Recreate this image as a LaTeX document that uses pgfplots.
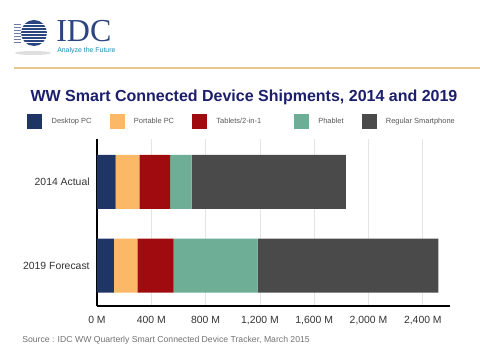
\documentclass[border=0pt]{standalone}
\usepackage{pgfplots}
\pgfplotsset{compat=1.18}
\usepackage{fontspec}
\setmainfont{Liberation Sans}
\newfontfamily\seriffont{Liberation Serif}
\definecolor{cDesk}{HTML}{1F3566}
\definecolor{cPort}{HTML}{FBB867}
\definecolor{cTab}{HTML}{A00B10}
\definecolor{cPhab}{HTML}{6EAE96}
\definecolor{cSmart}{HTML}{4A4A4A}
\definecolor{cTitle}{HTML}{1C1F6B}
\definecolor{cIDC}{HTML}{2B4580}
\definecolor{cGold}{HTML}{E6C88A}
\begin{document}
\begin{tikzpicture}[x=0.75pt,y=0.75pt]
\fill[white] (0,0) rectangle (480,360);
% logo
\fill[gray!25] (33,307) ellipse (18 and 2);
\fill[cIDC] (34,327) circle (13);
\foreach \yy in {318,321,324,327,330,333,336} {\draw[white,line width=0.5pt] (20,\yy) -- (48,\yy);}
\foreach \yy in {318,321,324,327,330,333,336} {\draw[cIDC!70,line width=0.5pt] (14,\yy) -- (21,\yy);}
\node[anchor=base west,inner sep=0pt,text=cIDC,font=\seriffont\fontsize{24}{24}\selectfont] at (56,318) {IDC};
\node[anchor=west,inner sep=0pt,text=cIDC!60!cyan,font=\fontsize{5.2}{6}\selectfont] at (57,309) {Analyze the Future};
\fill[cGold] (14,291) rectangle (480,293);
% title
\node[text=cTitle,font=\bfseries\fontsize{12}{14}\selectfont] at (244,263) {WW Smart Connected Device Shipments, 2014 and 2019};
% source
\node[anchor=west,inner sep=0pt,text=gray!90!black,font=\fontsize{6.5}{8}\selectfont] at (22,20) {Source : IDC WW Quarterly Smart Connected Device Tracker, March 2015};
\begin{axis}[
  at={(72.75pt,40.5pt)}, anchor=south west,
  scale only axis, width=264.75pt, height=125.25pt,
  xbar stacked, bar width=40.5pt,
  xmin=0, xmax=2600,
  ymin=-0.51, ymax=1.48, y dir=reverse,
  ytick={0,1}, yticklabels={2014 Actual,2019 Forecast},
  xtick={0,400,800,1200,1600,2000,2400},
  xticklabels={{0 M},{400 M},{800 M},{1,200 M},{1,600 M},{2,000 M},{2,400 M}},
  major tick length=0pt,
  axis x line*=bottom, axis y line*=left,
  axis line style={black,line width=1.5pt,-},
  xmajorgrids, grid style={gray!20,line width=0.6pt},
  ticklabel style={text=black!80,font=\fontsize{7.8}{9}\selectfont},
  xticklabel style={yshift=-4pt},
  yticklabel style={xshift=-2pt},
  legend columns=5,
  legend style={draw=none,fill=none,at={(-0.198,1.102)},anchor=west,inner sep=0pt,
    font=\fontsize{5.6}{7}\selectfont,text=black!65,
    /tikz/every odd column/.append style={column sep=5pt},
    /tikz/every even column/.append style={column sep=11.5pt}},
]
\addplot[fill=cDesk,draw=none,legend image code/.code={\fill[cDesk] (0pt,-5.6pt) rectangle (11.25pt,5.6pt);}] coordinates {(138,0) (125,1)};
\addplot[fill=cPort,draw=none,legend image code/.code={\fill[cPort] (0pt,-5.6pt) rectangle (11.25pt,5.6pt);}] coordinates {(174,0) (172,1)};
\addplot[fill=cTab,draw=none,legend image code/.code={\fill[cTab] (0pt,-5.6pt) rectangle (11.25pt,5.6pt);}] coordinates {(226,0) (268,1)};
\addplot[fill=cPhab,draw=none,legend image code/.code={\fill[cPhab] (0pt,-5.6pt) rectangle (11.25pt,5.6pt);}] coordinates {(159,0) (618,1)};
\addplot[fill=cSmart,draw=none,legend image code/.code={\fill[cSmart] (0pt,-5.6pt) rectangle (11.25pt,5.6pt);}] coordinates {(1137,0) (1331,1)};
\legend{Desktop PC,Portable PC,Tablets/2-in-1\hspace*{11pt},Phablet,Regular Smartphone}
\end{axis}
\end{tikzpicture}
\end{document}
